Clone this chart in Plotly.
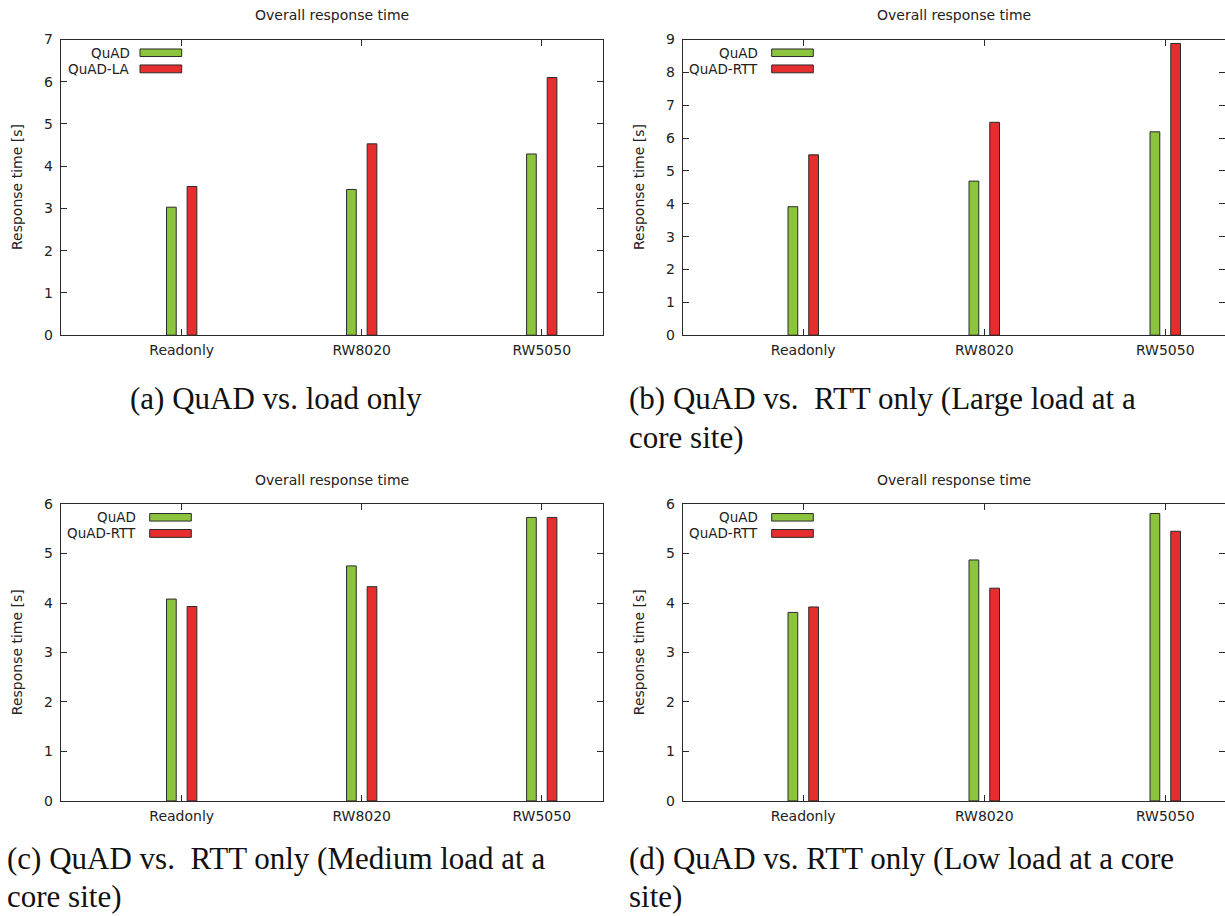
import plotly.graph_objects as go

# Workload categories on the x axis
categories = ["Readonly", "RW8020", "RW5050"]

# (a) QuAD vs. load only
quad_a = [3.03, 3.45, 4.29]
quad_la_a = [3.52, 4.53, 6.10]
# (b) QuAD vs. RTT only, large load at a core site
quad_b = [3.91, 4.69, 6.19]
quad_rtt_b = [5.49, 6.48, 8.88]
# (c) QuAD vs. RTT only, medium load at a core site
quad_c = [4.08, 4.75, 5.73]
quad_rtt_c = [3.93, 4.33, 5.73]
# (d) QuAD vs. RTT only, low load at a core site
quad_d = [3.81, 4.87, 5.81]
quad_rtt_d = [3.92, 4.30, 5.45]

y_max = [7, 9, 6, 6]
series_names = [("QuAD", "QuAD-LA"), ("QuAD", "QuAD-RTT"), ("QuAD", "QuAD-RTT"), ("QuAD", "QuAD-RTT")]
panel_data = [(quad_a, quad_la_a), (quad_b, quad_rtt_b), (quad_c, quad_rtt_c), (quad_d, quad_rtt_d)]

captions = [
    ["(a) QuAD vs. load only"],
    ["(b) QuAD vs.  RTT only (Large load at a", "core site)"],
    ["(c) QuAD vs.  RTT only (Medium load at a", "core site)"],
    ["(d) QuAD vs. RTT only (Low load at a core", "site)"],
]

GREEN = "#8CC43E"
RED = "#E52E2D"
EDGE = "#2a2a2a"
TXT = "#222222"
SANS = "DejaVu Sans"
SERIF = "Liberation Serif"

W, H = 1225, 916

# vertical page placement: the page sits a few px lower and is slightly squeezed
V_OFF, V_SCALE = 7.5, 0.982


def vy(y):
    """Page y position (px from top) -> figure px."""
    return (y - V_OFF) / V_SCALE


def vd(d):
    """Vertical distance in page px -> figure px."""
    return d / V_SCALE


# Pixel geometry of each panel: (left, right, top, bottom, x range)
panels = [
    (60.7, 603.3, 39.0, 334.5, [-0.672, 2.342]),
    (682.7, 1225.0, 39.0, 334.5, [-0.666, 2.330]),
    (60.7, 603.3, 503.3, 800.0, [-0.672, 2.342]),
    (682.7, 1225.0, 503.3, 800.0, [-0.666, 2.330]),
]
# Legend geometry (px from the panel's left edge): text right edge, swatch x0, swatch x1
legend_geom = [
    (71.3, 79.3, 121.0),
    (77.3, 89.0, 130.6),
    (77.3, 89.0, 130.6),
    (77.3, 89.0, 130.6),
]
caption_pos = [
    (128, [398]),
    (627, [398, 437]),
    (5, [858, 896]),
    (627, [858, 896]),
]

fig = go.Figure()
layout = dict(
    width=W, height=H,
    margin=dict(l=0, r=0, t=0, b=0),
    paper_bgcolor="white", plot_bgcolor="white",
    showlegend=False,
    barmode="group", bargap=0.771, bargroupgap=0.53,
    font=dict(family=SANS, size=14, color=TXT),
)
shapes = []
annotations = []
extra_axis = 5

for i, ((l, r, t, b, xr), (s1, s2), (n1, n2)) in enumerate(zip(panels, panel_data, series_names)):
    k = "" if i == 0 else str(i + 1)
    xa, ya = "x" + k, "y" + k
    for vals, name, col in ((s1, n1, GREEN), (s2, n2, RED)):
        fig.add_trace(go.Bar(
            x=categories, y=vals, name=name, xaxis=xa, yaxis=ya,
            marker=dict(color=col, line=dict(color=EDGE, width=1)),
        ))
    at_page_edge = r >= W
    layout["xaxis" + k] = dict(
        domain=[l / W, min(r / W, 1.0)], anchor=ya, range=xr, type="category",
        showline=True, linecolor=EDGE, linewidth=1, mirror="ticks",
        ticks="inside", ticklen=6, tickcolor=EDGE, showgrid=False, zeroline=False,
        tickfont=dict(family=SANS, size=14, color=TXT), ticklabelstandoff=2,
    )
    layout["yaxis" + k] = dict(
        domain=[1 - vy(b) / H, 1 - vy(t) / H], anchor=xa, range=[0, y_max[i]], dtick=1,
        showline=True, linecolor=EDGE, linewidth=1,
        mirror=False if at_page_edge else "ticks",
        ticks="inside", ticklen=6, tickcolor=EDGE, showgrid=False, zeroline=False,
        tickfont=dict(family=SANS, size=14, color=TXT), ticklabelstandoff=4,
    )
    if at_page_edge:
        # right-hand tick marks only; the frame line falls at the page edge
        ek = str(extra_axis)
        extra_axis += 1
        layout["yaxis" + ek] = dict(
            overlaying=ya, side="right", anchor=xa, range=[0, y_max[i]], dtick=1,
            showline=False, ticks="inside", ticklen=6, tickcolor=EDGE,
            showticklabels=False, showgrid=False, zeroline=False,
        )
        fig.add_trace(go.Scatter(x=[], y=[], xaxis=xa, yaxis="y" + ek,
                                 hoverinfo="skip", showlegend=False))
    # panel title and y-axis label
    annotations.append(dict(
        text="Overall response time", xref=xa + " domain", yref=ya + " domain",
        x=0.5, y=1, yshift=vd(23.7), xanchor="center", yanchor="middle", showarrow=False,
        font=dict(family=SANS, size=14, color=TXT),
    ))
    annotations.append(dict(
        text="Response time [s]", xref=xa + " domain", yref=ya + " domain",
        x=0, y=0.5, xshift=-43, xanchor="center", yanchor="middle", textangle=-90,
        showarrow=False, font=dict(family=SANS, size=14, color=TXT),
    ))
    # legend drawn as text plus a wide swatch to the right of it
    tx, sx0, sx1 = legend_geom[i]
    for (name, col, yy0, yy1) in ((n1, GREEN, 9.3, 16.7), (n2, RED, 25.0, 32.7)):
        shapes.append(dict(
            type="rect", xref=xa + " domain", yref=ya + " domain",
            xsizemode="pixel", ysizemode="pixel", xanchor=0, yanchor=1,
            x0=sx0, x1=sx1, y0=-vd(yy0), y1=-vd(yy1),
            fillcolor=col, line=dict(color=EDGE, width=1),
        ))
        annotations.append(dict(
            text=name, xref=xa + " domain", yref=ya + " domain",
            x=0, y=1, xshift=tx, yshift=-vd((yy0 + yy1) / 2),
            xanchor="right", yanchor="middle", showarrow=False,
            font=dict(family=SANS, size=13.5, color=TXT),
        ))
    # sub-figure caption
    cx, cys = caption_pos[i]
    for line, cy in zip(captions[i], cys):
        annotations.append(dict(
            text=line, xref="paper", yref="paper", x=cx / W, y=1 - vy(cy) / H,
            xanchor="left", yanchor="middle", showarrow=False,
            font=dict(family=SERIF, size=31, color="#111111"),
        ))

layout["shapes"] = shapes
layout["annotations"] = annotations
fig.update_layout(**layout)
fig.write_html("out.html")
